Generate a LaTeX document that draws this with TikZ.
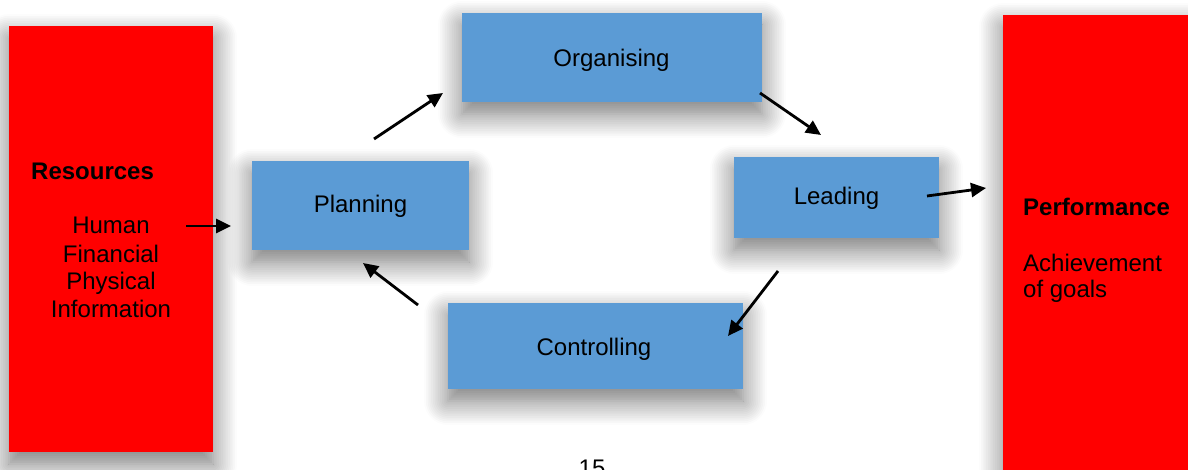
\documentclass[tikz,border=0pt]{standalone}
\usepackage{fontspec}
\setmainfont{Liberation Sans}
\usetikzlibrary{shadows.blur,arrows.meta}
\definecolor{boxred}{HTML}{FF0000}
\definecolor{boxblue}{HTML}{5B9BD5}
\begin{document}
\begin{tikzpicture}[x=1pt,y=-1pt,
  soft/.style={blur shadow={shadow xshift=0pt, shadow yshift=-12pt, shadow blur radius=24pt, shadow blur steps=14, shadow opacity=55}},
  redbox/.style={rectangle, fill=boxred, inner sep=0pt, soft},
  bluebox/.style={rectangle, fill=boxblue, inner sep=0pt, soft},
  lbl/.style={inner sep=0pt, anchor=base, font=\fontsize{24}{28}\selectfont},
  flow/.style={line width=2.8pt, -{Triangle[length=15pt,width=14pt]}}]
\useasboundingbox (0,0) rectangle (1188,470);
% red boxes
\node[redbox, minimum width=204pt, minimum height=426pt] (res) at (111,239) {};
\node[redbox, minimum width=200pt, minimum height=470pt] (perf) at (1103,250) {};
% blue boxes
\node[bluebox, minimum width=300pt, minimum height=89pt] (org) at (612,57.5) {};
\node[bluebox, minimum width=217pt, minimum height=89pt] (plan) at (360.5,205.5) {};
\node[bluebox, minimum width=205pt, minimum height=81pt] (lead) at (836.5,197.5) {};
\node[bluebox, minimum width=295pt, minimum height=86pt] (ctrl) at (595.5,346) {};
\node[lbl] (orgtxt) at (611.5,66.5) {Organising};
\node[lbl] (plantxt) at (360.5,213) {Planning};
\node[lbl] (leadtxt) at (836.5,205) {Leading};
\node[lbl] (ctrltxt) at (594,355.5) {Controlling};
% texts
\node[lbl, anchor=base west, font=\fontsize{24}{28}\bfseries\selectfont] (restitle) at (31,179.5) {Resources};
\node[lbl] (r1) at (111,233.5) {Human};
\node[lbl] (r2) at (111,262) {Financial};
\node[lbl] (r3) at (111,290) {Physical};
\node[lbl] (r4) at (111,317.5) {Information};
\node[lbl, anchor=base west, font=\fontsize{24}{28}\bfseries\selectfont] (perftitle) at (1023,215.5) {Performance};
\node[lbl, anchor=base west] (p1) at (1023,271.5) {Achievement};
\node[lbl, anchor=base west] (p2) at (1023,297.5) {of goals};
\node[lbl] (pagenum) at (592,476) {15};
% arrow ends
\coordinate (a1s) at (186,226); \coordinate (a1e) at (231,226);
\coordinate (a2s) at (374,139); \coordinate (a2e) at (443,93);
\coordinate (a3s) at (760,93); \coordinate (a3e) at (821,135);
\coordinate (a4s) at (927,196); \coordinate (a4e) at (986,188);
\coordinate (a5s) at (778,271); \coordinate (a5e) at (728,336);
\coordinate (a6s) at (418,305); \coordinate (a6e) at (363,263);
\draw[flow] (a1s) -- (a1e);
\draw[flow] (a2s) -- (a2e);
\draw[flow] (a3s) -- (a3e);
\draw[flow] (a4s) -- (a4e);
\draw[flow] (a5s) -- (a5e);
\draw[flow] (a6s) -- (a6e);
\end{tikzpicture}
\end{document}
